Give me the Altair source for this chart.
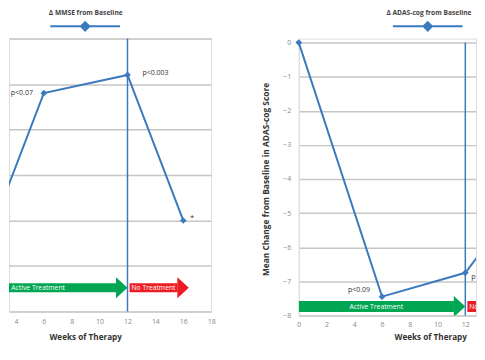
import altair as alt
import pandas as pd

# ---------------- data ----------------
weeks = [0, 6, 12, 16]
mmse_change = [0.0, 2.4, 2.6, 1.0]
mmse_notes = ["", "p<0.07", "p<0.003", "*"]
adas_change = [0.0, -7.45, -6.75, -4.6]
adas_notes = ["", "p<0.09", "p<0.05", ""]

left_x_ticks = [4, 6, 8, 10, 12, 14, 16, 18]
right_x_ticks = [0, 2, 4, 6, 8, 10, 12]
mmse_y_ticks = [0, 0.5, 1, 1.5, 2, 2.5, 3]
adas_y_ticks = [0, -1, -2, -3, -4, -5, -6, -7, -8]

phase_labels = ["Active Treatment", "No Treatment"]
phase_start = [0, 12.15]
phase_end = [12, 16.4]
phase_colors = ["#00a651", "#ed1c24"]

# ---------------- style ----------------
BLUE = "#3b7abf"
GRID = "#c6c6c6"
FONT = "Open Sans"
HEAD_W = 0.82  # weeks
HEAD_PATH = "M-1.1,-1L0,0L-1.1,1Z"


def legend_path(shift):
    # line of 10 units with a diamond in the middle, moved right by `shift` units
    a, b, c = -5 + shift, 5 + shift, shift
    return (f"M{a:.2f},0L{b:.2f},0M{c:.2f},-0.6L{c + 0.6:.2f},0"
            f"L{c:.2f},0.6L{c - 0.6:.2f},0Z")


def panel(values, notes, legend_title, x_domain, x_vals, y_domain, y_range, y_vals,
          width, height, show_y, legend_x, legend_shift, title_x, x_label_pad,
          x_title_pad, arrow_c, arrow_h, note_specs):
    df = pd.DataFrame({"week": weeks, "change": values, "note": notes,
                       "series": [legend_title] * len(weeks)})
    ph = pd.DataFrame({"label": phase_labels, "start": phase_start, "end": phase_end,
                       "color": phase_colors})
    ph["body_end"] = ph["end"] - HEAD_W
    ph["mid"] = (ph["start"] + ph["body_end"]) / 2

    xs = alt.Scale(domain=x_domain, nice=False, zero=False)
    ys = alt.Scale(domain=y_domain, range=y_range, nice=False, zero=False)
    xa = alt.Axis(values=x_vals, title="Weeks of Therapy", grid=False, ticks=False,
                  domain=False, labelFlush=False, labelOverlap=False,
                  labelPadding=x_label_pad, titlePadding=x_title_pad, titleX=title_x,
                  labelColor="#8a8a8a", labelFontSize=7, labelFont=FONT,
                  titleFont=FONT, titleFontSize=8.2, titleFontWeight="bold",
                  titleColor="#333333")
    if show_y:
        ya = alt.Axis(values=y_vals, title="Mean Change from Baseline in ADAS-cog Score",
                      grid=True, gridColor=GRID, gridWidth=1.5, ticks=False, domain=True,
                      domainColor="#dddddd", domainWidth=1, labelPadding=8,
                      labelOverlap=False, labelColor="#8a8a8a", labelFontSize=7,
                      labelFont=FONT, titleFont=FONT, titleFontSize=8.4,
                      titleFontWeight="bold", titleColor="#333333", titlePadding=12)
    else:
        ya = alt.Axis(values=y_vals, title=None, grid=True, gridColor=GRID, gridWidth=1.5,
                      ticks=False, domain=False, labels=False, labelOverlap=False)

    def X(f):
        return alt.X(f, type="quantitative", scale=xs, axis=xa)

    def Y(f):
        return alt.Y(f, type="quantitative", scale=ys, axis=ya)

    def YD(v):
        return alt.YDatum(v, type="quantitative", scale=ys, axis=ya)

    base = alt.Chart(df)
    phb = alt.Chart(ph)

    line = base.mark_line(strokeWidth=2, clip=True).encode(
        x=X("week"), y=Y("change"),
        color=alt.Color("series:N", scale=alt.Scale(range=[BLUE]), legend=alt.Legend(
            orient="none", legendX=legend_x, legendY=-29, title=legend_title,
            titleOrient="top", titleAnchor="start", titleFont=FONT, titleFontSize=6.7,
            titleFontWeight="bold", titleColor="#444444", titlePadding=2,
            labelExpr="''", symbolType=legend_path(legend_shift), symbolSize=196,
            symbolStrokeWidth=2, symbolFillColor=BLUE, symbolStrokeColor=BLUE,
            labelOffset=0)),
    )

    rule = phb.mark_rule(color=BLUE, strokeWidth=1.5).encode(
        x=X("end"), y=YD(y_domain[0]), y2=alt.Y2Datum(y_domain[1])
    ).transform_filter("datum.label == 'Active Treatment'")

    body = phb.mark_rect(clip=True).encode(
        x=X("start"), x2="body_end",
        y=YD(arrow_c + arrow_h), y2=alt.Y2Datum(arrow_c - arrow_h),
        fill=alt.Fill("color:N", scale=None),
    )
    head = phb.mark_point(shape=HEAD_PATH, size=441, filled=True, opacity=1,
                          strokeWidth=0, clip=True).encode(
        x=X("end"), y=YD(arrow_c), fill=alt.Fill("color:N", scale=None),
    )
    ptext = phb.mark_text(color="white", font=FONT, fontSize=6.8, clip=True).encode(
        x=X("mid"), y=YD(arrow_c), text="label:N"
    )

    pts = base.mark_point(shape="diamond", filled=True, size=45, color=BLUE, opacity=1,
                          clip=not show_y).encode(x=X("week"), y=Y("change")
    ).transform_filter(alt.datum.week <= x_domain[1])

    layers = [line, rule, body, head, ptext, pts]
    for note, align, dx, dy, clip in note_specs:
        layers.append(
            base.mark_text(align=align, baseline="middle", dx=dx, dy=dy, font=FONT,
                           fontSize=7, color="#333333", clip=clip).encode(
                x=X("week"), y=Y("change"), text="note:N"
            ).transform_filter(alt.datum.note == note)
        )
    return alt.layer(*layers).properties(width=width, height=height)


left = panel(mmse_change, mmse_notes, "Δ MMSE from Baseline",
             [3.5, 18], left_x_ticks, [0, 3], [274, 0], mmse_y_ticks,
             203, 274, False, 40, 4.07, 76.5, 6, 9,
             0.26, 0.05,
             [("p<0.07", "right", -11, 0, False), ("p<0.003", "left", 15, -2, False),
              ("*", "left", 7, -2, False)])

right = panel(adas_change, adas_notes, "Δ ADAS-cog from Baseline",
              [0, 12.77], right_x_ticks, [-8, 0], [278, 4], adas_y_ticks,
              178, 278, True, 88, 4.79, 132, 5, 6,
              -7.74, 0.16,
              [("p<0.09", "right", -12, -7, False), ("p<0.05", "left", 6, 4, True)])

chart = alt.hconcat(left, right, spacing=45).resolve_scale(
    color="independent"
).resolve_legend(color="independent").properties(
    padding={"left": 0, "top": 0, "right": 0, "bottom": 0}
).configure_view(stroke=None).configure(background="white")

chart.save("out.html", embed_options={"renderer": "svg", "actions": False})
